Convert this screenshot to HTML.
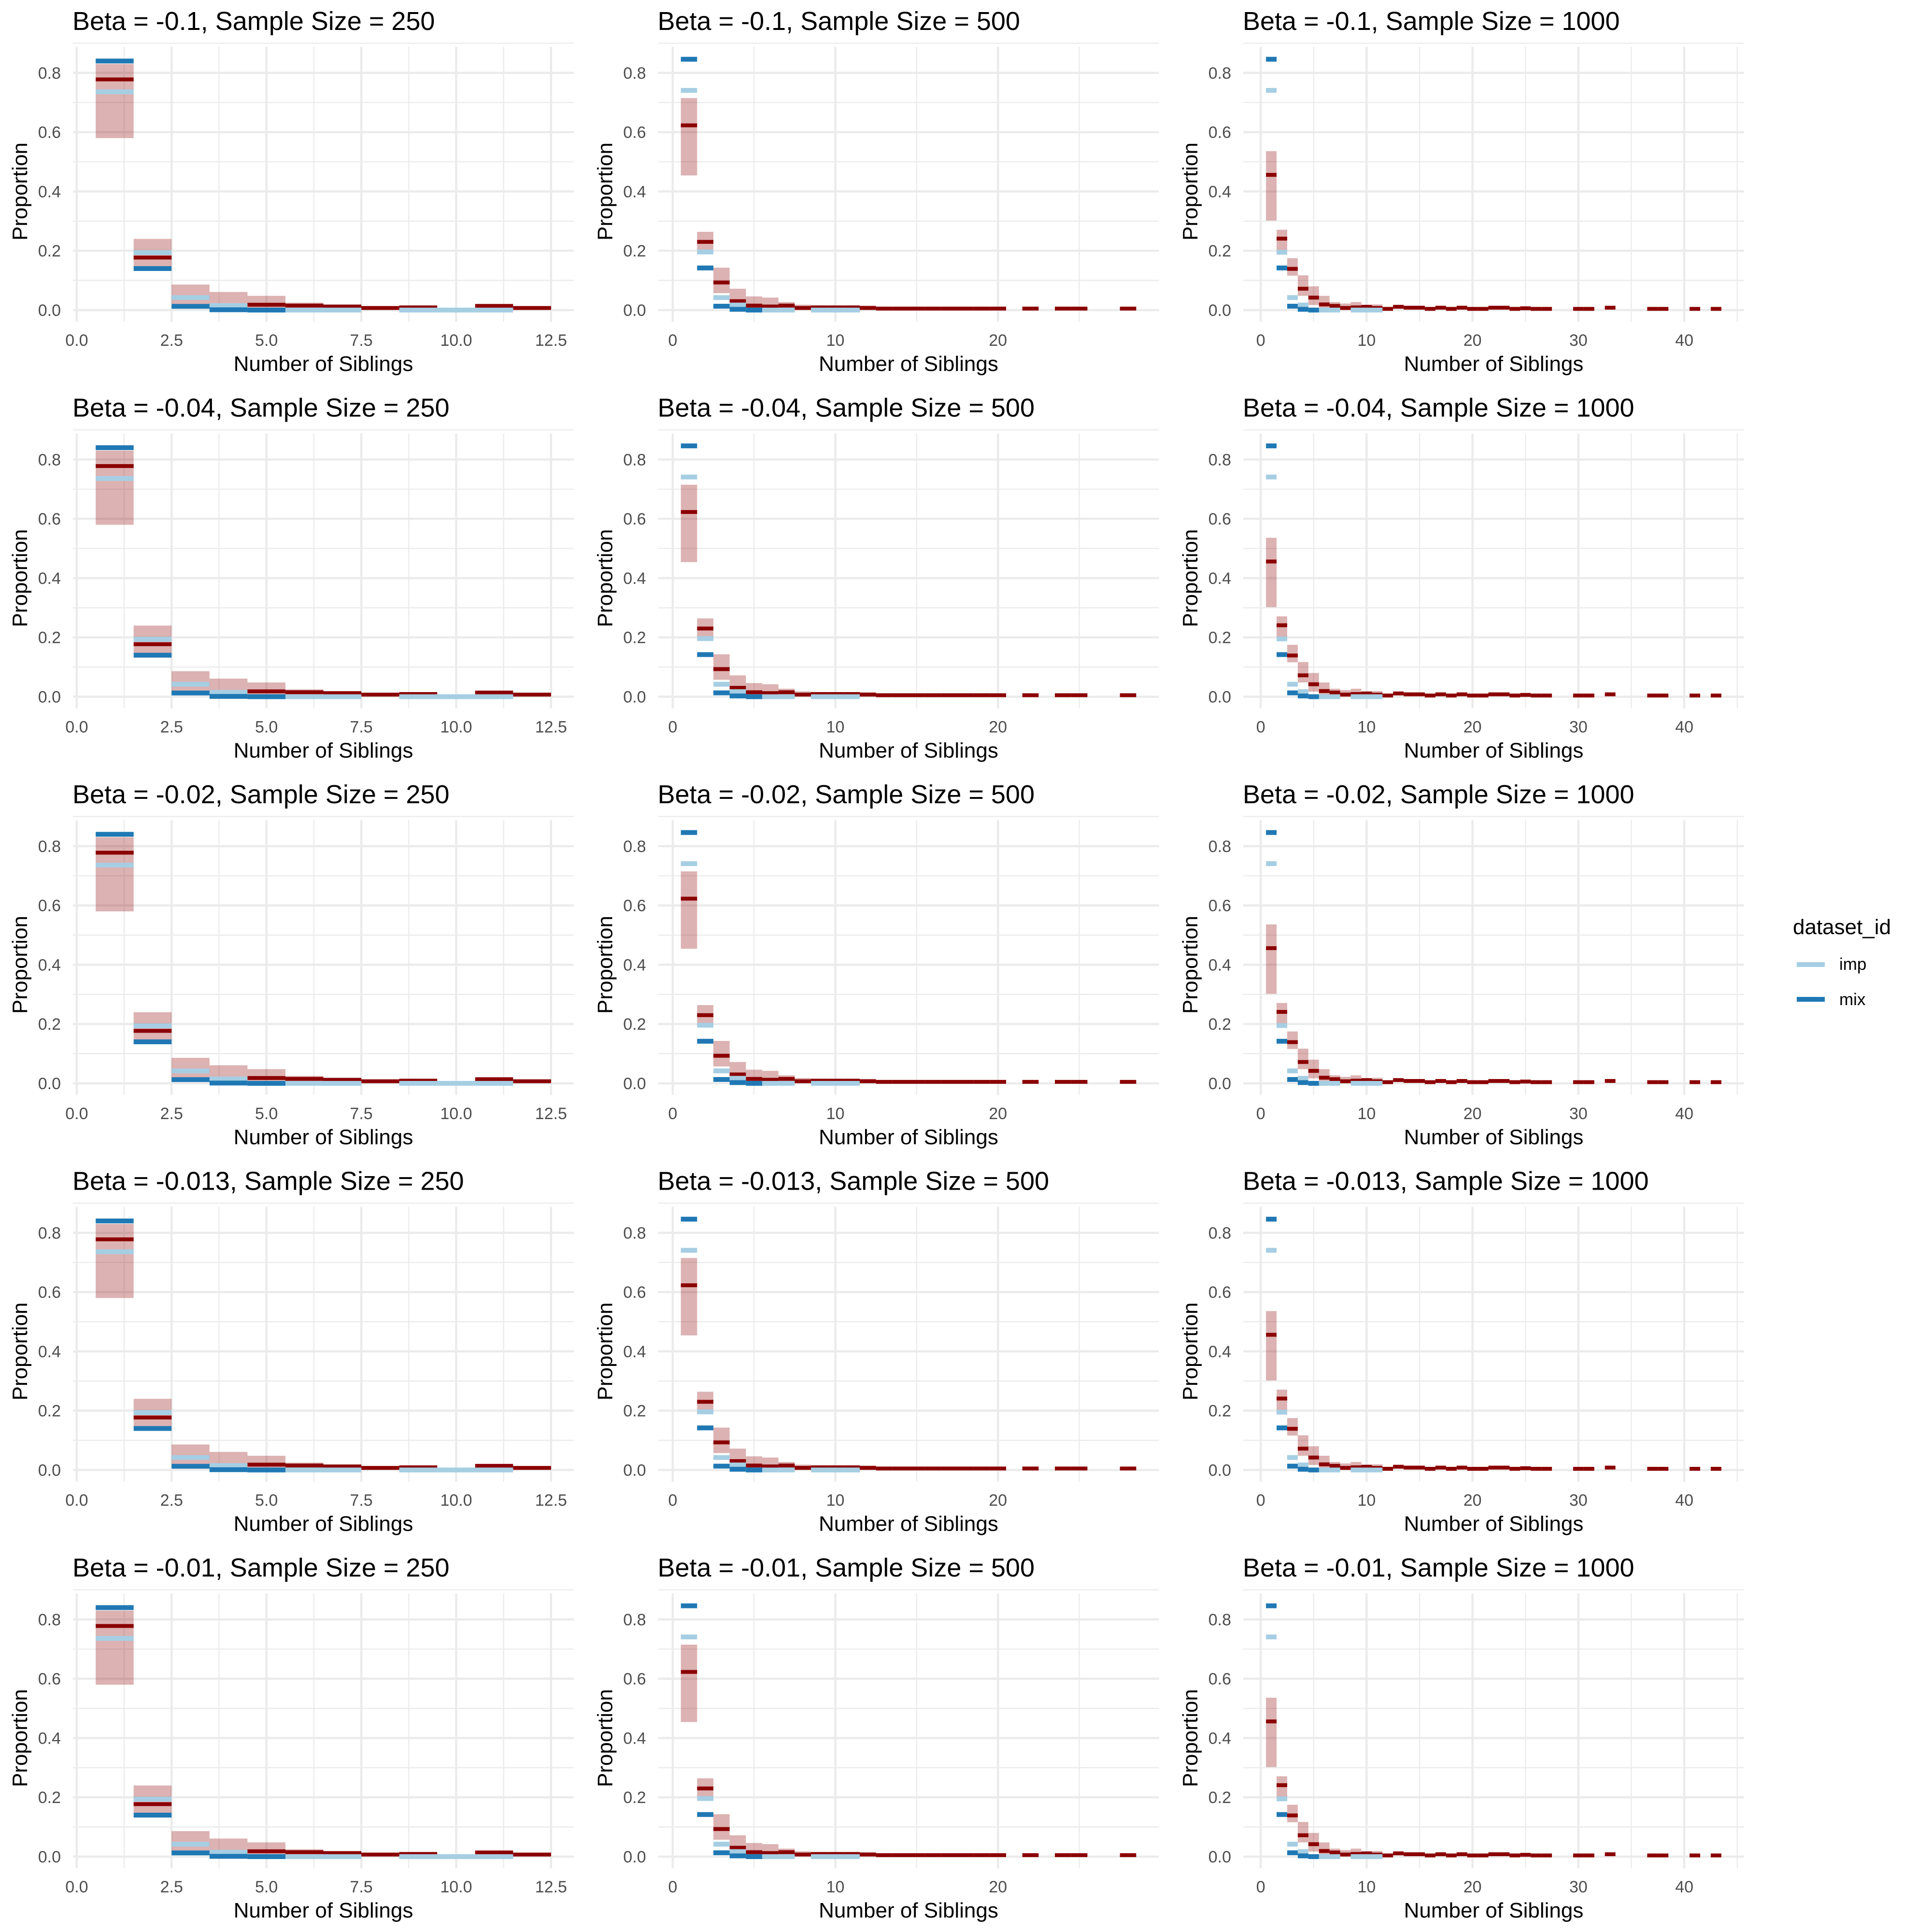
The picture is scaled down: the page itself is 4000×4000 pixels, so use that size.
<!DOCTYPE html>
<html><head><meta charset="utf-8">
<style>
html,body{margin:0;padding:0;background:#fff;}
svg{display:block;font-family:"Liberation Sans",Arial,sans-serif;}
</style></head>
<body>
<svg id="chart" width="4000" height="4000" viewBox="0 0 4000 4000">
<rect width="4000" height="4000" fill="#fff"/>
<g>
  <text x="3712" y="1934" font-size="44" fill="#000">dataset_id</text>
  <rect x="3720" y="1992" width="58" height="10" fill="#A6CEE3"/>
  <text x="3808" y="2008" font-size="35" fill="#000">imp</text>
  <rect x="3720" y="2064" width="58" height="10" fill="#1F78B4"/>
  <text x="3808" y="2081" font-size="35" fill="#000">mix</text>
</g>
</svg>
<script>
const betas = ["-0.1","-0.04","-0.02","-0.013","-0.01"];
const sampleSizes = ["250","500","1000"];
// column 1 (n=250): x = 1..12
const x250 = [1,2,3,4,5,6,7,8,9,10,11,12];
const mean250 = [0.778,0.177,0.042,null,0.018,0.015,0.012,0.007,0.009,null,0.014,0.007];
const lo250 = [0.580,0.148,0.015,0.005,0.000,0.003,0.003,0.002,0.003,null,0.004,0.002];
const hi250 = [0.830,0.240,0.086,0.061,0.048,0.025,0.015,0.009,0.011,null,0.019,0.010];
const imp250 = [0.736,0.194,0.042,0.015,null,0.0,0.0,null,0.0,0.0,0.0,null];
const mix250 = [0.840,0.140,0.0125,0.001,0.0,null,null,null,null,null,null,null];
// column 2 (n=500)
const x500 = [1,2,3,4,5,6,7,8,9,10,11,12,13,14,15,16,17,18,19,20,22,24,25,28];
const mean500 = [0.623,0.230,0.093,0.030,0.015,0.012,0.015,0.007,0.009,0.009,0.009,0.007,0.005,0.005,0.005,0.005,0.005,0.005,0.005,0.005,0.005,0.005,0.005,0.005];
const lo500 = [0.454,0.190,0.057,0.020,0.005,0.004,0.006,0.002,0.003,0.003,0.003,0.002,0.001,0.001,0.001,0.001,0.001,0.001,0.001,0.001,0.001,0.001,0.001,0.001];
const hi500 = [0.715,0.264,0.143,0.072,0.046,0.042,0.027,0.018,0.011,0.012,0.011,0.015,0.006,0.006,0.006,0.006,0.006,0.006,0.006,0.006,0.006,0.006,0.006,0.006];
const imp500 = [0.741,0.196,0.042,0.017,null,0.0,0.0,null,0.0,0.0,0.0,null,null,null,null,null,null,null,null,null,null,null,null,null];
const mix500 = [0.846,0.142,0.013,0.0025,0.0,null,null,null,null,null,null,null,null,null,null,null,null,null,null,null,null,null,null,null];
// column 3 (n=1000)
const x1000 = [1,2,3,4,5,6,7,8,9,10,11,12,13,14,15,16,17,18,19,20,21,22,23,24,25,26,27,30,31,33,37,38,41,43];
const mean1000 = [0.456,0.241,0.139,0.072,0.042,0.019,0.014,0.007,0.009,0.011,0.007,0.004,0.011,0.008,0.008,0.004,0.008,0.004,0.008,0.004,0.004,0.008,0.008,0.004,0.006,0.004,0.004,0.004,0.004,0.008,0.004,0.004,0.004,0.004];
const lo1000 = [0.302,0.200,0.116,0.048,0.017,0.008,0.005,0.002,0.003,0.004,0.002,0.001,0.006,0.004,0.004,0.001,0.004,0.001,0.004,0.001,0.001,0.004,0.004,0.001,0.002,0.001,0.001,0.001,0.001,0.004,0.001,0.001,0.001,0.001];
const hi1000 = [0.536,0.271,0.175,0.117,0.080,0.048,0.027,0.022,0.027,0.017,0.019,0.006,0.013,0.010,0.010,0.006,0.010,0.006,0.010,0.006,0.006,0.010,0.010,0.006,0.008,0.006,0.006,0.006,0.006,0.010,0.006,0.006,0.006,0.006];
const imp1000 = [0.741,0.195,0.042,0.017,null,0.0,0.0,null,0.0,0.0,0.0];
const mix1000 = [0.846,0.142,0.013,0.0025,0.0];
const xTicks250 = ["0.0","2.5","5.0","7.5","10.0","12.5"];
const xTicks500 = ["0","10","20"];
const xTicks1000 = ["0","10","20","30","40"];
const yTicks = ["0.0","0.2","0.4","0.6","0.8"];

const svg = document.getElementById('chart');
const NS = 'http://www.w3.org/2000/svg';
function mk(tag, attrs, parent){const e=document.createElementNS(NS,tag);for(const k in attrs)e.setAttribute(k,attrs[k]);parent.appendChild(e);return e;}

const cols = [
 {xs:x250,mean:mean250,lo:lo250,hi:hi250,imp:imp250,mix:mix250,ticks:xTicks250,dmin:-0.1,dmax:13.1,major:2.5},
 {xs:x500,mean:mean500,lo:lo500,hi:hi500,imp:imp500,mix:mix500,ticks:xTicks500,dmin:-0.9,dmax:29.9,major:10},
 {xs:x1000,mean:mean1000,lo:lo1000,hi:hi1000,imp:imp1000,mix:mix1000,ticks:xTicks1000,dmin:-1.65,dmax:45.65,major:10}
];
const PW=1037, PH=569, COLP=1211.5, ROWP=800.5;
const YMIN=-0.0392, YMAX=0.8878;

betas.forEach((b,r)=>{
 cols.forEach((c,ci)=>{
  const L = 151 + ci*COLP, T = 97 + r*ROWP;
  const sx = v => L + (v - c.dmin)/(c.dmax-c.dmin)*PW;
  const sy = v => T + PH - (v - YMIN)/(YMAX-YMIN)*PH;
  const g = mk('g',{},svg);
  
  
  const t = mk('text',{x:L-1,y:T-35,'font-size':54,fill:'#000'},g);
  t.textContent = 'Beta = '+b+', Sample Size = '+sampleSizes[ci];
  
  
  for(let v=0; v<=0.9; v+=0.1){
   const major = Math.round(v*10)%2===0;
   const gl = mk('line',{x1:L,x2:L+PW,y1:sy(v),y2:sy(v),stroke:'#ebebeb','stroke-width':major?4.5:2.3},g);
   
   
  }
  const half=c.major/2;
  for(let v=0; v<=c.dmax; v+=half){
   const major = Math.abs(v/c.major - Math.round(v/c.major))<1e-6;
   const gl = mk('line',{x1:sx(v),x2:sx(v),y1:T,y2:T+PH,stroke:'#ebebeb','stroke-width':major?4.5:2.3},g);
   
   
  }
  yTicks.forEach(lbl=>{
   const tt = mk('text',{x:L-25,y:sy(parseFloat(lbl))+12,'font-size':34,fill:'#4d4d4d','text-anchor':'end'},g);
   tt.textContent=lbl;
   
   
  });
  c.ticks.forEach(lbl=>{
   const tt = mk('text',{x:sx(parseFloat(lbl)),y:T+PH+50,'font-size':34,fill:'#4d4d4d','text-anchor':'middle'},g);
   tt.textContent=lbl;
   
   
  });
  const xt = mk('text',{x:L+PW/2,y:T+PH+102,'font-size':44,fill:'#000','text-anchor':'middle'},g);
  xt.textContent='Number of Siblings';
  
  
  const yx=L-110, yy=T+PH/2;
  const yt = mk('text',{x:yx,y:yy,'font-size':44,fill:'#000','text-anchor':'middle',transform:'rotate(-90 '+(yx+15)+' '+yy+')'},g);
  yt.textContent='Proportion';
  
  
  c.xs.forEach((x,i)=>{
   if(c.lo[i]==null||c.hi[i]==null) return;
   const rr = mk('rect',{x:sx(x-0.5),width:sx(x+0.5)-sx(x-0.5),y:sy(c.hi[i]),height:sy(c.lo[i])-sy(c.hi[i]),fill:'#8B0000','fill-opacity':0.3},g);
   
   
  });
  const seg=(arr,col,w,name)=>{
   c.xs.forEach((x,i)=>{
    const v=arr[i]; if(v==null||v===undefined) return;
    const s = mk('rect',{x:sx(x-0.5),width:sx(x+0.5)-sx(x-0.5),y:sy(v)-w/2,height:w,fill:col},g);
    
    
   });
  };
  seg(c.mean,'#8B0000',8,'mean-segment');
  seg(c.imp,'#A6CEE3',10,'imp-segment');
  seg(c.mix,'#1F78B4',10,'mix-segment');
 });
});
</script>
</body></html>
